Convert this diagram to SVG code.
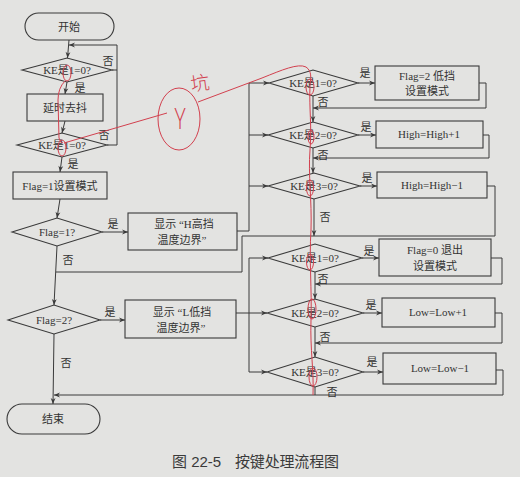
<svg xmlns="http://www.w3.org/2000/svg" width="520" height="477" viewBox="0 0 520 477">
<defs>
<marker id="ah" viewBox="0 0 10 10" refX="10" refY="5" markerWidth="7" markerHeight="6" markerUnits="userSpaceOnUse" orient="auto">
<path d="M0,1 L10,5 L0,9 L3,5 z" fill="#3a3a3a"/>
</marker>
<style>
.n{fill:none;stroke:#3a3a3a;stroke-width:1.1}
.c{fill:none;stroke:#3a3a3a;stroke-width:1}
.a{marker-end:url(#ah)}
.t{font-family:"Liberation Serif","Noto Sans CJK SC",serif;font-size:11px;fill:#333;text-anchor:middle;dominant-baseline:central}
.l{font-family:"Liberation Serif","Noto Sans CJK SC",serif;font-size:11px;fill:#333;text-anchor:middle;dominant-baseline:central}
.r{fill:none;stroke:#d2404e;stroke-width:1}
.rt{font-family:"Open Sans","Liberation Sans","Noto Sans CJK SC",sans-serif;font-weight:300;fill:#d2404e;text-anchor:middle}
.cap{font-family:"Liberation Sans","Noto Sans CJK SC",sans-serif;font-size:15px;fill:#3a3a3a;dominant-baseline:central}
</style>
</defs>
<rect width="520" height="477" fill="#e3e3e1"/>

<g id="connectors">
<path class="c a" d="M69,40 L67.5,58"/>
<path class="c a" d="M112,70 H117 V45 H69"/>
<path class="c" d="M107,145 H117 V70"/>
<path class="c a" d="M67,82 L65,94"/>
<path class="c a" d="M65,121 L62,133"/>
<path class="c a" d="M62,157 L60,172"/>
<path class="c a" d="M60,199 L57,218"/>
<path class="c a" d="M102,232 H128"/>
<path class="c" d="M237,231 H249 V83"/>
<path class="c a" d="M249,83 H269"/>
<path class="c a" d="M249,135 H268"/>
<path class="c a" d="M249,186 H268"/>
<path class="c a" d="M57,246 L54,305"/>
<path class="c a" d="M100,320 H125"/>
<path class="c" d="M236,313 H249"/>
<path class="c" d="M249,258 V372"/>
<path class="c a" d="M249,258 H268"/>
<path class="c a" d="M249,313 H267"/>
<path class="c a" d="M249,372 H267"/>
<path class="c a" d="M54,334 L53,404"/>
<path class="c a" d="M496,370 H503 V395 H54"/>
<path class="c a" d="M313,96 V122"/>
<path class="c a" d="M358,83 H375"/>
<path class="c a" d="M479,83 H486 V108 H313"/>
<path class="c a" d="M313,148 V173"/>
<path class="c a" d="M358,135 H376"/>
<path class="c a" d="M483,135 H489 V158 H313"/>
<path class="c a" d="M360,186 H377"/>
<path class="c a" d="M314,199 V236"/>
<path class="c" d="M487,186 H495 V236 H242 V272 H56"/>
<path class="c a" d="M362,258 H379"/>
<path class="c a" d="M491,258 H502 V284 H315"/>
<path class="c a" d="M315,272 V299"/>
<path class="c a" d="M363,313 H382"/>
<path class="c a" d="M495,313 H502 V343 H315"/>
<path class="c a" d="M315,327 V357"/>
<path class="c a" d="M363,372 H383"/>
<path class="c" d="M315,387 V395"/>
<text class="l" x="108" y="61">否</text>
<text class="l" x="80" y="88">是</text>
<text class="l" x="104" y="135">否</text>
<text class="l" x="73" y="164">是</text>
<text class="l" x="113" y="224">是</text>
<text class="l" x="68" y="260">否</text>
<text class="l" x="110" y="312">是</text>
<text class="l" x="66" y="363">否</text>
<text class="l" x="365" y="73">是</text>
<text class="l" x="323" y="102">否</text>
<text class="l" x="366" y="127">是</text>
<text class="l" x="323" y="155">否</text>
<text class="l" x="367" y="178">是</text>
<text class="l" x="325" y="217">否</text>
<text class="l" x="369" y="251">是</text>
<text class="l" x="323" y="279">否</text>
<text class="l" x="371" y="305">是</text>
<text class="l" x="325" y="337">否</text>
<text class="l" x="372" y="362">是</text>
<text class="l" x="332" y="392">否</text>
</g>

<g id="start"><rect class="n" x="25" y="13" width="89" height="27" rx="13.5"/><text class="t" x="69" y="27">开始</text></g>
<g id="d1"><polygon class="n" points="22,70 67,58 112,70 67,82"/><text class="t" x="67" y="70">KE是1=0?</text></g>
<g id="delay"><rect class="n" x="27" y="94" width="76" height="27"/><text class="t" x="65" y="108">延时去抖</text></g>
<g id="d2"><polygon class="n" points="17,145 62,133 107,145 62,157"/><text class="t" x="62" y="145">KE是1=0?</text></g>
<g id="flag1set"><rect class="n" x="13" y="172" width="94" height="27"/><text class="t" x="60" y="186">Flag=1设置模式</text></g>
<g id="flag1q"><polygon class="n" points="12,232 57,218 102,232 57,246"/><text class="t" x="57" y="232">Flag=1?</text></g>
<g id="showH"><rect class="n" x="128" y="213" width="109" height="37"/><text class="t" x="184" y="224">显示 “H高挡</text><text class="t" x="182" y="240">温度边界”</text></g>
<g id="flag2q"><polygon class="n" points="8,320 54,305 100,320 54,334"/><text class="t" x="54" y="320">Flag=2?</text></g>
<g id="showL"><rect class="n" x="125" y="300" width="111" height="38"/><text class="t" x="182" y="312">显示 “L低挡</text><text class="t" x="181" y="328">温度边界”</text></g>
<g id="end"><rect class="n" x="7" y="404" width="93" height="30" rx="15"/><text class="t" x="53" y="419">结束</text></g>

<g id="rd1"><polygon class="n" points="269,83 313,70 358,83 313,96"/><text class="t" x="313" y="83">KE是1=0?</text></g>
<g id="b1"><rect class="n" x="375" y="66" width="104" height="34"/><text class="t" x="427" y="76">Flag=2 低挡</text><text class="t" x="427" y="91">设置模式</text></g>
<g id="rd2"><polygon class="n" points="268,135 313,122 358,135 313,148"/><text class="t" x="313" y="135">KE是2=0?</text></g>
<g id="b2"><rect class="n" x="376" y="121" width="107" height="27"/><text class="t" x="429" y="134">High=High+1</text></g>
<g id="rd3"><polygon class="n" points="268,186 314,173 360,186 314,199"/><text class="t" x="314" y="186">KE是3=0?</text></g>
<g id="b3"><rect class="n" x="377" y="172" width="110" height="26"/><text class="t" x="432" y="185">High=High−1</text></g>
<g id="ld1"><polygon class="n" points="268,258 315,244 362,258 315,272"/><text class="t" x="315" y="258">KE是1=0?</text></g>
<g id="b4"><rect class="n" x="379" y="239" width="112" height="37"/><text class="t" x="435" y="250">Flag=0 退出</text><text class="t" x="435" y="266">设置模式</text></g>
<g id="ld2"><polygon class="n" points="267,313 315,299 363,313 315,327"/><text class="t" x="315" y="313">KE是2=0?</text></g>
<g id="b5"><rect class="n" x="382" y="298" width="113" height="29"/><text class="t" x="438" y="312">Low=Low+1</text></g>
<g id="ld3"><polygon class="n" points="267,372 315,357 363,372 315,387"/><text class="t" x="315" y="372">KE是3=0?</text></g>
<g id="b6"><rect class="n" x="383" y="353" width="113" height="31"/><text class="t" x="440" y="368">Low=Low−1</text></g>

<text class="cap" x="172" y="461">图 22-5</text>
<text class="cap" x="235" y="461" textLength="104">按键处理流程图</text>

<g id="annotations">
<ellipse class="r" cx="67" cy="73" rx="4" ry="8"/>
<ellipse class="r" cx="62" cy="148" rx="4" ry="8"/>
<path class="r" d="M65,81 Q58,88 58,100 L59,138 Q60,143 63,143"/>
<path class="r" d="M64,143 L167,113"/>
<ellipse class="r" cx="179" cy="119" rx="21" ry="31"/>
<text class="rt" font-size="30" transform="translate(180,129) scale(0.7,1)">Y</text>
<text class="rt" font-size="19" transform="translate(201,90) rotate(-8)">坑</text>
<path class="r" d="M198,102 L262,78 C282,70 298,63 306,67 C312,71 311,78 310,85 C309,110 312,125 310,150 C308,175 312,200 311,230 C309,260 312,290 311,320 C310,350 314,370 313,395"/>
<ellipse class="r" cx="310" cy="87" rx="4" ry="8"/>
<ellipse class="r" cx="311" cy="137" rx="3" ry="7"/>
<ellipse class="r" cx="310" cy="188" rx="3.5" ry="8"/>
<ellipse class="r" cx="310" cy="262" rx="3.5" ry="8"/>
<ellipse class="r" cx="312" cy="309" rx="4" ry="10"/>
<ellipse class="r" cx="313" cy="377" rx="4" ry="9"/>
</g>
</svg>
